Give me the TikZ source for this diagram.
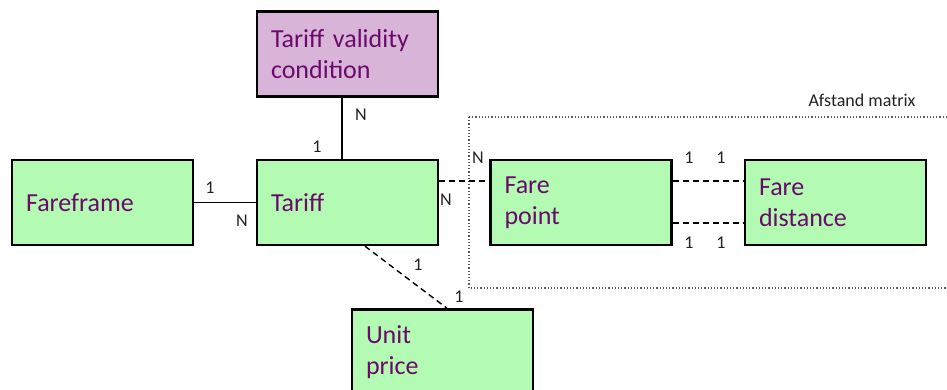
\documentclass[tikz,border=0pt]{standalone}
\usepackage{fontspec}
\setmainfont{Carlito}
\definecolor{boxgreen}{HTML}{B3FBB3}
\definecolor{boxpurple}{HTML}{D8B4D8}
\definecolor{txtpurple}{HTML}{6A0A6A}
\definecolor{lbl}{HTML}{222222}
\begin{document}
\begin{tikzpicture}[x=1pt,y=-1pt,
  entity/.style={draw=black,line width=2.4pt,fill=boxgreen,minimum width=181pt,minimum height=85pt,
    text width=153pt,align=left,inner sep=0pt,font=\fontsize{26}{31}\selectfont,text=txtpurple},
  conn/.style={line width=1.4pt},
  dconn/.style={line width=1.4pt,dash pattern=on 6pt off 4pt},
  card/.style={font=\fontsize{18}{20}\selectfont,text=lbl,inner sep=0pt}]
\useasboundingbox (0,0) rectangle (947,389);
\clip (0,0) rectangle (947,389);
% dotted group
\draw[line width=1.2pt,dotted,draw=gray!70!black] (469,117) -- (960,117);
\draw[line width=1.2pt,dotted,draw=gray!70!black] (469,117) -- (469,288) -- (960,288);
\node[card,anchor=base] (am) at (862,106) {Afstand matrix};
% entities
\node[entity,fill=boxpurple] (tvc) at (347.5,54) {Tariff validity\\condition};
\node[entity] (ff) at (102.5,202.5) {Fareframe};
\node[entity] (tar) at (347.5,202.5) {Tariff};
\node[entity] (fp) at (581,202.5) {Fare\\point};
\node[entity] (fd) at (835.5,202.5) {Fare\\distance};
\node[entity] (up) at (442.5,352) {Unit\\price};
% connectors
\draw[conn] (tvc.south -| 342,0) -- (tar.north -| 342,0);
\draw[conn] (ff.east) -- (tar.west);
\draw[dconn] (tar.east |- 0,181) -- (fp.west |- 0,181);
\draw[dconn] (fp.east |- 0,181) -- (fd.west |- 0,181);
\draw[dconn] (fp.east |- 0,223) -- (fd.west |- 0,223);
\draw[dconn] (tar.south -| 365,0) -- (up.north -| 447,0);
% cardinalities
\node[card] (c1) at (361,115) {N};
\node[card] (c2) at (317,147) {1};
\node[card] (c3) at (210,188) {1};
\node[card] (c4) at (242,221) {N};
\node[card] (c5) at (478,158) {N};
\node[card] (c6) at (446,200) {N};
\node[card] (c7) at (689,158) {1};
\node[card] (c8) at (721,158) {1};
\node[card] (c9) at (689,243) {1};
\node[card] (c10) at (721,243) {1};
\node[card] (c11) at (418,265) {1};
\node[card] (c12) at (459,297) {1};
\end{tikzpicture}
\end{document}
